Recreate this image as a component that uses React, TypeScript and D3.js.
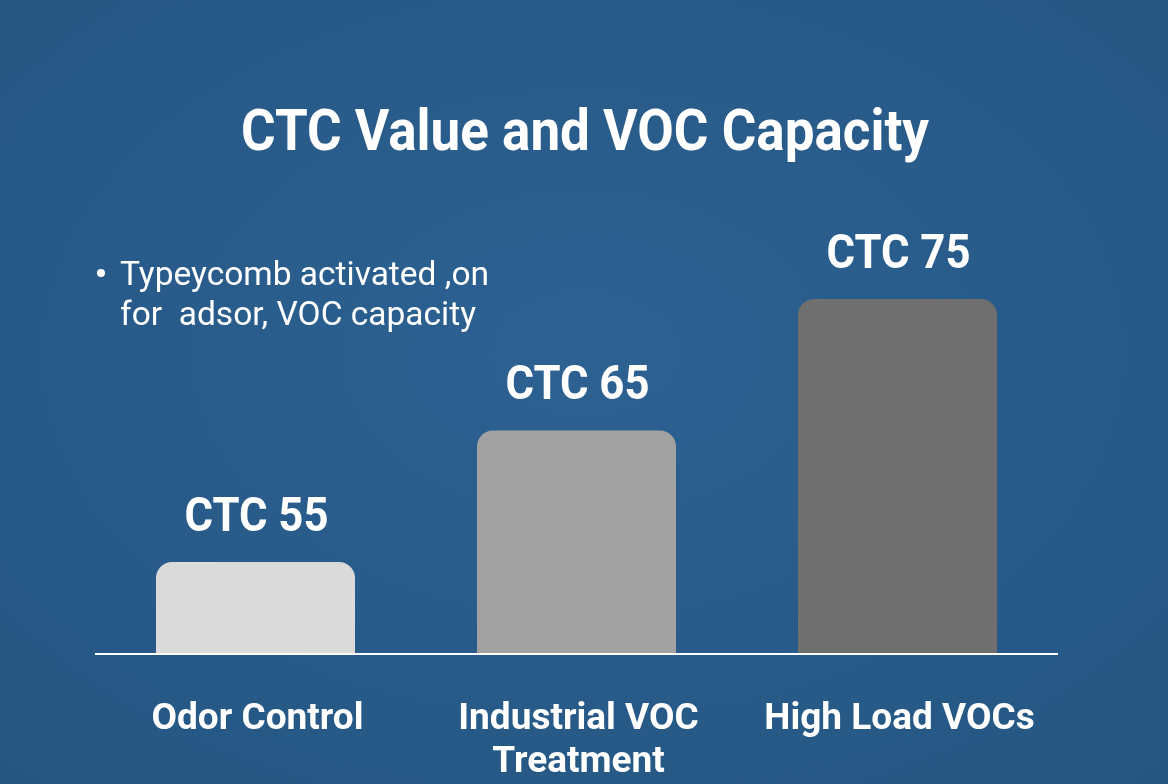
import React from "react";
import * as d3 from "d3";

const categories = ["Odor Control", "Industrial VOC\nTreatment", "High Load VOCs"];
const ctcValues = [55, 65, 75];
const barLabels = ["CTC 55", "CTC 65", "CTC 75"];
const barColors = ["#dadada", "#a2a2a2", "#6f6f6f"];
const noteLines = ["Typeycomb activated ,on", "for  adsor, VOC capacity"];

const W = 1168;
const H = 784;
const baseY = 654;

const App = () => {
  const x = d3.scaleBand<string>()
    .domain(categories)
    .range([95, 1058])
    .paddingInner(0.38)
    .paddingOuter(0.19);

  const y = d3.scaleLinear().domain([48, 75]).range([baseY, 299]);

  const font = "Roboto, 'DejaVu Sans', sans-serif";

  // bar with rounded top corners
  const barPath = (x0: number, top: number, w: number, r: number) => {
    const p = d3.path();
    p.moveTo(x0, baseY);
    p.lineTo(x0, top + r);
    p.arcTo(x0, top, x0 + r, top, r);
    p.lineTo(x0 + w - r, top);
    p.arcTo(x0 + w, top, x0 + w, top + r, r);
    p.lineTo(x0 + w, baseY);
    p.closePath();
    return p.toString();
  };

  return (
    <svg width={W} height={H} style={{ position: "fixed", left: 0, top: 0 }}>
      <defs>
        <radialGradient id="bg" cx="50%" cy="45%" r="75%">
          <stop offset="0%" stopColor="#2c6192" />
          <stop offset="100%" stopColor="#255682" />
        </radialGradient>
      </defs>
      <rect width={W} height={H} fill="url(#bg)" />

      <text x={585} y={150} textAnchor="middle" fill="#fff" fontFamily={font}
        fontWeight={700} fontSize={57} textLength={688} lengthAdjust="spacingAndGlyphs">
        CTC Value and VOC Capacity
      </text>

      <g fill="#fff" fontFamily={font} fontSize={33.5}>
        <circle cx={101} cy={273} r={4} />
        {noteLines.map((t, i) => (
          <text key={i} x={120} y={285 + i * 40} style={{ whiteSpace: "pre" }}>{t}</text>
        ))}
      </g>

      {categories.map((c, i) => {
        const bx = x(c)!;
        const top = y(ctcValues[i]);
        return (
          <g key={c}>
            <path d={barPath(bx, top, x.bandwidth(), 16)} fill={barColors[i]} />
            <text x={bx + x.bandwidth() / 2 + 1} y={top - 31} textAnchor="middle"
              fill="#fff" fontFamily={font} fontWeight={700} fontSize={49}
              textLength={144} lengthAdjust="spacingAndGlyphs">
              {barLabels[i]}
            </text>
            {c.split("\n").map((ln, j) => (
              <text key={j} x={bx + x.bandwidth() / 2 + 2} y={729 + j * 43}
                textAnchor="middle" fill="#fff" fontFamily={font}
                fontWeight={700} fontSize={37}>
                {ln}
              </text>
            ))}
          </g>
        );
      })}

      <line x1={95} x2={1058} y1={baseY} y2={baseY} stroke="#fff" strokeWidth={2} />
    </svg>
  );
};

export default App;
